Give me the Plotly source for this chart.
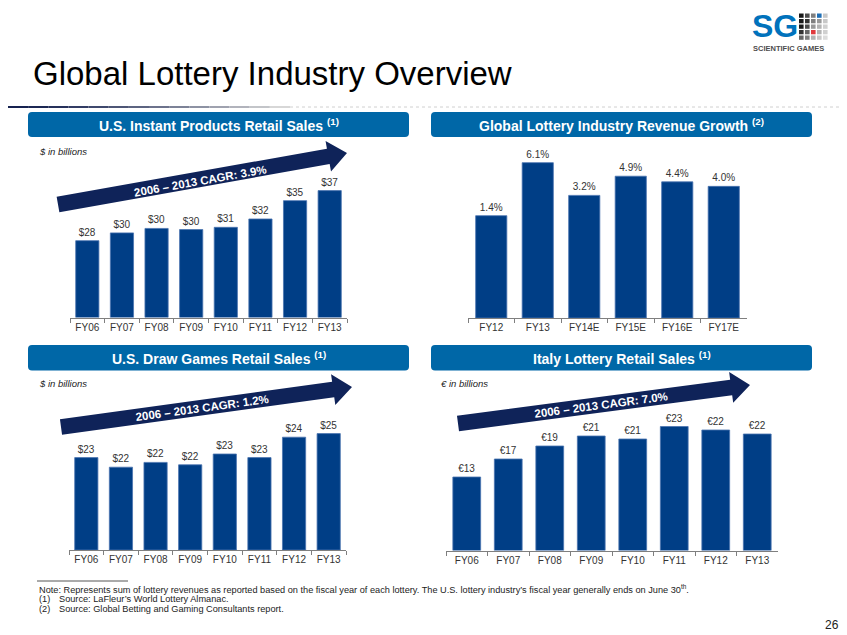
import math
import plotly.graph_objects as go

# page geometry: the html body has an 8px margin, so the figure is drawn at (8, 8)
OX, OY = 8, 8
W, H = 847 - OX, 635 - OY

# ---------------- data ----------------
instant_cats = ["FY06", "FY07", "FY08", "FY09", "FY10", "FY11", "FY12", "FY13"]
instant_sales = [28.2, 29.6, 30.4, 30.2, 30.6, 32.1, 35.4, 37.2]

growth_cats = ["FY12", "FY13", "FY14E", "FY15E", "FY16E", "FY17E"]
growth_pct = [1.4, 6.1, 3.2, 4.9, 4.4, 4.0]

draw_cats = ["FY06", "FY07", "FY08", "FY09", "FY10", "FY11", "FY12", "FY13"]
draw_sales = [22.7, 21.9, 22.3, 22.1, 23.0, 22.7, 24.4, 24.7]

italy_cats = ["FY06", "FY07", "FY08", "FY09", "FY10", "FY11", "FY12", "FY13"]
italy_sales = [13.0, 16.6, 19.2, 21.2, 20.6, 23.1, 22.4, 21.6]

panel_titles = [
    "U.S. Instant Products Retail Sales <sup>(1)</sup>",
    "Global Lottery Industry Revenue Growth <sup>(2)</sup>",
    "U.S. Draw Games Retail Sales <sup>(1)</sup>",
    "Italy Lottery Retail Sales <sup>(1)</sup>",
]
cagr_labels = ["2006 – 2013 CAGR: 3.9%", "2006 – 2013 CAGR: 1.2%", "2006 – 2013 CAGR: 7.0%"]
unit_labels = ["$ in billions", "$ in billions", "€ in billions"]

# ---------------- style ----------------
FONT = "Liberation Sans, Arial, Helvetica, sans-serif"
BAR = "#003E86"
BAR_EDGE = "#4A74B0"
HEAD = "#0067A7"
ARROW = "#0F2359"
TXT = "#333333"


def px(x):
    return (x - OX) / W


def py(y):
    return 1 - (y - OY) / H


# panels: cats, values, label fmt, x-left, x-right, axis y, plot top y, axis min value, px per unit
panels = [
    (instant_cats, instant_sales, lambda v: f"${v:.0f}", 70, 347, 317.5, 145, 14.38, 5.56),
    (growth_cats, growth_pct, lambda v: f"{v:.1f}%", 468, 747, 318, 145, -7.67, 11.28),
    (draw_cats, draw_sales, lambda v: f"${v:.0f}", 69, 346, 550, 378, 15.0, 12.0),
    (italy_cats, italy_sales, lambda v: f"€{v:.0f}", 446, 778, 550.5, 378, -1.7, 5.0),
]

fig = go.Figure()
layout_axes = {}
for i, (cats, vals, fmt, xl, xr, yb, yt, vmin, a) in enumerate(panels):
    n = "" if i == 0 else str(i + 1)
    fig.add_trace(go.Bar(
        x=cats,
        y=[v - vmin for v in vals],
        base=vmin,
        text=[fmt(v) for v in vals],
        textposition="outside",
        constraintext="none",
        cliponaxis=False,
        textfont=dict(family=FONT, size=10, color=TXT),
        marker=dict(color=BAR, line=dict(color=BAR_EDGE, width=0.8)),
        width=0.67,
        xaxis="x" + n,
        yaxis="y" + n,
        hoverinfo="skip",
        showlegend=False,
    ))
    layout_axes["xaxis" + n] = dict(
        domain=[px(xl), px(xr)],
        anchor="y" + n,
        type="category",
        showline=True,
        linecolor="#7F7F7F",
        linewidth=1,
        ticks="outside",
        tickson="boundaries",
        ticklen=4,
        tickcolor="#7F7F7F",
        showgrid=False,
        zeroline=False,
        tickfont=dict(family=FONT, size=10, color=TXT),
        fixedrange=True,
    )
    layout_axes["yaxis" + n] = dict(
        domain=[py(yb), py(yt)],
        anchor="x" + n,
        range=[vmin, vmin + (yb - yt) / a],
        visible=False,
        fixedrange=True,
    )

shapes = []
annotations = []


def rrect(x0, y0, x1, y1, r):
    pts = [
        f"M {px(x0 + r)},{py(y0)}",
        f"L {px(x1 - r)},{py(y0)}",
        f"Q {px(x1)},{py(y0)} {px(x1)},{py(y0 + r)}",
        f"L {px(x1)},{py(y1 - r)}",
        f"Q {px(x1)},{py(y1)} {px(x1 - r)},{py(y1)}",
        f"L {px(x0 + r)},{py(y1)}",
        f"Q {px(x0)},{py(y1)} {px(x0)},{py(y1 - r)}",
        f"L {px(x0)},{py(y0 + r)}",
        f"Q {px(x0)},{py(y0)} {px(x0 + r)},{py(y0)}",
        "Z",
    ]
    return " ".join(pts)


# header boxes
headers = [(28, 112, 409, 137), (431, 112, 812, 137), (28, 345, 409, 370.5), (431, 345, 812, 370.5)]
for (x0, y0, x1, y1), t in zip(headers, panel_titles):
    shapes.append(dict(type="path", path=rrect(x0, y0, x1, y1, 4), xref="paper", yref="paper",
                       fillcolor=HEAD, line=dict(width=0), layer="below"))
    annotations.append(dict(text=f"<b>{t}</b>", x=px((x0 + x1) / 2), y=py((y0 + y1) / 2 + 0.5),
                            xref="paper", yref="paper", showarrow=False, xanchor="center", yanchor="middle",
                            font=dict(family=FONT, size=14, color="white")))

# unit labels
for (x, y), t in zip([(37, 151), (37, 384), (439, 384)], unit_labels):
    annotations.append(dict(text=f"<i>{t}</i>", x=px(x), y=py(y), xref="paper", yref="paper",
                            showarrow=False, xanchor="left", yanchor="middle",
                            font=dict(family=FONT, size=9.5, color="#222222")))


# CAGR arrows
def arrow_path(x0, y0, x1, y1, sw, hw, hl):
    dx, dy = x1 - x0, y1 - y0
    L = math.hypot(dx, dy)
    ux, uy = dx / L, dy / L
    nx, ny = -uy, ux
    bx, by = x1 - ux * hl, y1 - uy * hl
    pts = [
        (x0 + nx * sw, y0 + ny * sw),
        (bx + nx * sw, by + ny * sw),
        (bx + nx * hw, by + ny * hw),
        (x1, y1),
        (bx - nx * hw, by - ny * hw),
        (bx - nx * sw, by - ny * sw),
        (x0 - nx * sw, y0 - ny * sw),
    ]
    s = "M " + " L ".join(f"{px(p[0])},{py(p[1])}" for p in pts) + " Z"
    return s, math.degrees(math.atan2(dy, dx))


arrows = [((58, 204.5, 347, 153), (200, 180.5)),
          ((61, 427, 352, 387), (202, 407.5)),
          ((458, 423.5, 750, 385), (601, 405))]
for ((x0, y0, x1, y1), (tx, ty)), lab in zip(arrows, cagr_labels):
    p, ang = arrow_path(x0, y0, x1, y1, 7.8, 15.5, 19)
    shapes.append(dict(type="path", path=p, xref="paper", yref="paper", fillcolor=ARROW,
                       line=dict(width=0), layer="above"))
    annotations.append(dict(text=f"<b>{lab}</b>", x=px(tx), y=py(ty), xref="paper", yref="paper",
                            showarrow=False, xanchor="center", yanchor="middle", textangle=ang,
                            font=dict(family=FONT, size=11.5, color="white")))

# Title
annotations.append(dict(text="Global Lottery Industry Overview", x=px(31), y=py(73), xref="paper", yref="paper",
                        showarrow=False, xanchor="left", yanchor="middle",
                        font=dict(family=FONT, size=33, color="#000000")))

# rule under title (fading)
nseg = 14
c0 = (22, 34, 80)
c1 = (215, 215, 215)
for k in range(nseg):
    t = k / (nseg - 1)
    col = tuple(int(c0[j] + (c1[j] - c0[j]) * t ** 1.3) for j in range(3))
    xa = OX + k * 282 / nseg
    xb = OX + (k + 1) * 282 / nseg
    shapes.append(dict(type="line", xref="paper", yref="paper", x0=px(xa), x1=px(xb), y0=py(107), y1=py(107),
                       line=dict(color=f"rgb{col}", width=2)))
shapes.append(dict(type="line", xref="paper", yref="paper", x0=px(290), x1=px(847), y0=py(107), y1=py(107),
                   line=dict(color="#D0D0D0", width=1, dash="dot")))

# logo
annotations.append(dict(text="<b>SG</b>", x=px(750), y=py(26), xref="paper", yref="paper", showarrow=False,
                        xanchor="left", yanchor="middle", font=dict(family=FONT, size=32, color="#0072BC")))
annotations.append(dict(text="<b>SCIENTIFIC GAMES</b>", x=px(751), y=py(48), xref="paper", yref="paper",
                        showarrow=False, xanchor="left", yanchor="middle",
                        font=dict(family=FONT, size=7.5, color="#4D4D4D")))
grid = [
    ["#1A1A1A", "#4D4D4D", "#808080", "#1F6FB6", "#C8C8C8"],
    ["#1A1A1A", "#333333", "#808080", "#999999", "#C8C8C8"],
    ["#1A1A1A", "#4D4D4D", "#999999", "#B3B3B3", "#D0D0D0"],
    ["#333333", "#666666", "#E03A3E", "#B3B3B3", "#D0D0D0"],
    ["#666666", "#808080", "#B3B3B3", "#C8C8C8", "#DCDCDC"],
]
for r, row in enumerate(grid):
    for c, col in enumerate(row):
        gx = 799 + c * 6
        gy = 13.5 + r * 5.5
        shapes.append(dict(type="rect", xref="paper", yref="paper", x0=px(gx), x1=px(gx + 4.6),
                           y0=py(gy), y1=py(gy + 4.3), fillcolor=col, line=dict(width=0)))

# footnotes
shapes.append(dict(type="line", xref="paper", yref="paper", x0=px(37), x1=px(128), y0=py(581), y1=py(581),
                   line=dict(color="#555555", width=1)))
foot = [
    (37, 589, "Note: Represents sum of lottery revenues as reported based on the fiscal year of each lottery. "
              "The U.S. lottery industry’s fiscal year generally ends on June 30<sup>th</sup>."),
    (37, 599, "(1)"),
    (57, 599, "Source: LaFleur’s World Lottery Almanac."),
    (37, 609, "(2)"),
    (57, 609, "Source: Global Betting and Gaming Consultants report."),
]
for x, y, t in foot:
    annotations.append(dict(text=t, x=px(x), y=py(y), xref="paper", yref="paper", showarrow=False,
                            xanchor="left", yanchor="middle", font=dict(family=FONT, size=9.2, color="#222222")))
annotations.append(dict(text="26", x=px(841), y=py(625), xref="paper", yref="paper", showarrow=False,
                        xanchor="right", yanchor="middle", font=dict(family=FONT, size=12, color="#222222")))

fig.update_layout(
    width=W, height=H, autosize=False,
    margin=dict(l=0, r=0, t=0, b=0),
    paper_bgcolor="white", plot_bgcolor="rgba(0,0,0,0)",
    font=dict(family=FONT),
    shapes=shapes, annotations=annotations,
    showlegend=False,
    **layout_axes,
)

fig.write_html("out.html", config={"displayModeBar": False})
